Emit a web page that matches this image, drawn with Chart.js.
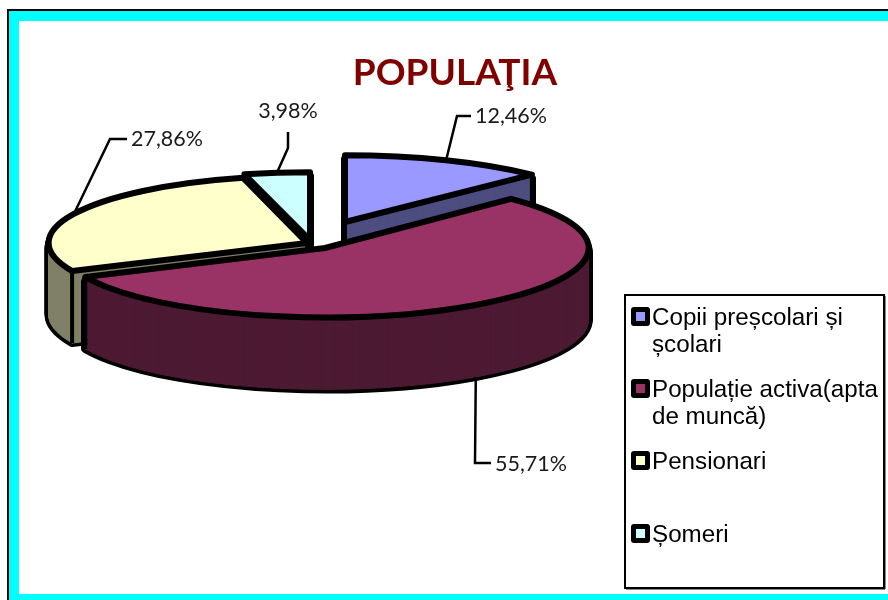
<!DOCTYPE html>
<html>
<head>
<meta charset="utf-8">
<style>
html,body{margin:0;padding:0;background:#fff;width:888px;height:600px;overflow:hidden}
#wrap{position:absolute;left:0;top:0;width:888px;height:600px}
canvas{display:block}
</style>
<script src="https://cdn.jsdelivr.net/npm/chart.js@4/dist/chart.umd.min.js"></script>
</head>
<body>
<div id="wrap"><canvas id="c" width="888" height="600"></canvas></div>
<script>
const chartTitle = 'POPULAŢIA';
const categories = ['Copii preșcolari și școlari', 'Populație activa(apta de muncă)', 'Pensionari', 'Șomeri'];
const values = [12.46, 55.71, 27.86, 3.98];
const valueLabels = ['12,46%', '55,71%', '27,86%', '3,98%'];
const topColors = ['#9999ff', '#993366', '#ffffcc', '#ccffff'];
const sideColors = ['#4d4d80', '#4d1a33', '#808066', '#668080'];
const titleColor = '#800000';

// Presentation of the exploded, tilted pie
const depth = 72, outlineWidth = 6, silhouetteWidth = 8;
const sliceCentre = [[345, 222], [325, 248], [307, 243], [310, 240]];
const sliceStretch = [1, 0.995, 0.975, 1];
const sliceTilt = [0.252, 0.262, 0.254, 0.256];
const drawOrder = [0, 3, 2, 1];
const legendBox = { x: 625, y: 295, w: 259, h: 293 };
const legendRows = [{ y: 316, lineY: [325, 352] }, { y: 388, lineY: [397, 424] }, { y: 460, lineY: [469] }, { y: 533, lineY: [542] }];
const leaders = [
  { bend: [[457, 116], [471, 116]], text: [475, 123], align: 'left' },
  { bend: [[475, 463], [491, 463]], text: [495, 471], align: 'left', bottom: true },
  { bend: [[110, 139], [127, 139]], text: [131, 146], align: 'left' },
  { bend: [[288, 148], [288, 132]], text: [288, 118], align: 'center' }
];

function placeSlice(ctx, arc, i, dy) {
  ctx.translate(sliceCentre[i][0], sliceCentre[i][1] + dy);
  ctx.scale(sliceStretch[i], sliceTilt[i]);
  ctx.translate(-arc.x, -arc.y);
}
function paintArc(ctx, arc, i, dy, fill, stroke, width) {
  const saved = arc.options;
  arc.options = { backgroundColor: fill, borderColor: stroke, borderWidth: width, borderAlign: 'center',
    borderJoinStyle: 'round', borderDash: [], borderDashOffset: 0, offset: 0, spacing: 0, circular: true, borderRadius: 0 };
  ctx.save();
  placeSlice(ctx, arc, i, dy);
  const plainStroke = ctx.stroke;
  // keep outline width even: stroke in page space rather than in tilted space
  ctx.stroke = function () { ctx.save(); ctx.setTransform(1, 0, 0, 1, 0, 0); plainStroke.call(ctx); ctx.restore(); };
  arc.draw(ctx);
  delete ctx.stroke;
  ctx.restore();
  arc.options = saved;
}
function rimPoint(arc, i, angle, dy) {
  return [sliceCentre[i][0] + Math.cos(angle) * arc.outerRadius * sliceStretch[i],
          sliceCentre[i][1] + dy + Math.sin(angle) * arc.outerRadius * sliceTilt[i]];
}

const pie3d = {
  id: 'pie3d',
  beforeDatasetsDraw(chart) {
    const ctx = chart.ctx;
    const arcs = chart.getDatasetMeta(0).data;
    drawOrder.forEach(i => {
      const arc = arcs[i];
      for (let d = depth; d >= 4; d -= 1) paintArc(ctx, arc, i, d, '#000', '#000', silhouetteWidth);
      for (let d = depth; d >= 0; d -= 1) paintArc(ctx, arc, i, d, sideColors[i], sideColors[i], 1);
      // corner edges of the wall
      [arc.startAngle, arc.endAngle].forEach(a => {
        const p = rimPoint(arc, i, a, 0);
        ctx.save(); ctx.strokeStyle = '#000'; ctx.lineWidth = 4;
        ctx.beginPath(); ctx.moveTo(p[0], p[1]); ctx.lineTo(p[0], p[1] + depth); ctx.stroke(); ctx.restore();
      });
      const c = sliceCentre[i];
      ctx.save(); ctx.strokeStyle = '#000'; ctx.lineWidth = 4;
      ctx.beginPath(); ctx.moveTo(c[0], c[1]); ctx.lineTo(c[0], c[1] + depth); ctx.stroke(); ctx.restore();
      paintArc(ctx, arc, i, 0, topColors[i], '#000', outlineWidth);
    });
    return false;
  },
  afterDraw(chart) {
    const ctx = chart.ctx;
    const arcs = chart.getDatasetMeta(0).data;
    // frame
    ctx.save();
    ctx.fillStyle = '#000';
    ctx.fillRect(7, 9, 881, 2); ctx.fillRect(7, 9, 2, 591);
    ctx.fillStyle = '#00ffff';
    ctx.fillRect(9, 11, 879, 10); ctx.fillRect(9, 11, 10, 589); ctx.fillRect(9, 594, 879, 6);
    // title
    ctx.fillStyle = titleColor; ctx.font = 'bold 37px Lato'; ctx.textAlign = 'center'; ctx.textBaseline = 'alphabetic';
    ctx.fillText(chartTitle, 455, 85);
    // value labels with leader lines
    ctx.font = '21.5px Lato';
    leaders.forEach((l, i) => {
      const arc = arcs[i];
      const mid = (arc.startAngle + arc.endAngle) / 2;
      const p = rimPoint(arc, i, mid, l.bottom ? depth : 0);
      ctx.strokeStyle = '#000'; ctx.lineWidth = 2.5;
      ctx.beginPath(); ctx.moveTo(p[0], p[1]);
      l.bend.forEach(b => ctx.lineTo(b[0], b[1]));
      ctx.stroke();
      ctx.fillStyle = '#1a1a1a'; ctx.textAlign = l.align;
      ctx.fillText(valueLabels[i], l.text[0], l.text[1]);
    });
    // legend
    ctx.fillStyle = '#888'; ctx.fillRect(legendBox.x + 1, legendBox.y + legendBox.h, legendBox.w, 2);
    ctx.fillRect(legendBox.x + legendBox.w, legendBox.y + 1, 2, legendBox.h);
    ctx.strokeStyle = '#000'; ctx.lineWidth = 2;
    ctx.strokeRect(legendBox.x, legendBox.y, legendBox.w, legendBox.h);
    ctx.font = '24.2px "Liberation Sans"'; ctx.textAlign = 'left';
    categories.forEach((name, i) => {
      const row = legendRows[i];
      ctx.fillStyle = '#000';
      ctx.beginPath(); ctx.roundRect(631, row.y - 9, 19, 19, 3); ctx.fill();
      ctx.fillStyle = topColors[i]; ctx.fillRect(636, row.y - 4, 9, 9);
      const lines = []; let cur = '';
      name.split(' ').forEach(w => {
        const t = cur ? cur + ' ' + w : w;
        if (ctx.measureText(t).width > 230 && cur) { lines.push(cur); cur = w; } else cur = t;
      });
      lines.push(cur);
      ctx.fillStyle = '#000';
      lines.forEach((t, k) => ctx.fillText(t, 652, row.lineY[k]));
    });
    ctx.restore();
  }
};

new Chart(document.getElementById('c'), {
  type: 'pie',
  data: { labels: categories, datasets: [{ data: values, backgroundColor: topColors, radius: 265 }] },
  options: {
    responsive: false, animation: false,
    plugins: { legend: { display: false }, tooltip: { enabled: false } }
  },
  plugins: [pie3d]
});
</script>
</body>
</html>
